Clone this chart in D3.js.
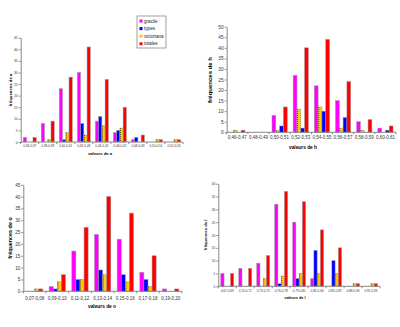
<!DOCTYPE html>
<html>
<head>
<meta charset="utf-8">
<script src="https://cdn.jsdelivr.net/npm/d3@7"></script>
<style>
  body { margin: 0; background: #fff; }
  svg { display: block; font-family: Arial, "Liberation Sans", sans-serif; }
</style>
</head>
<body>
<svg id="chart" width="400" height="327"></svg>
<script>
// --- data: valeurs de a
var catsA = ["0,36-0,37", "0,38-0,39", "0,40-0,41", "0,42-0,43", "0,44-0,45", "0,46-0,47", "0,48-0,49", "0,50-0,51", "0,52-0,53"];
var gracileA = [2, 8, 23, 30, 9, 4, 1, 0, 0];
var typesA = [0, 0, 1, 8, 11, 5, 2, 0, 0];
var victoA = [0, 1, 4, 3, 7, 6, 0, 1, 1];
var totalesA = [2, 9, 28, 41, 27, 15, 3, 1, 1];
var ticksA = [0, 5, 10, 15, 20, 25, 30, 35, 40, 45];

// --- valeurs de h
var catsH = ["0,46-0,47", "0,48-0,49", "0,50-0,51", "0,52-0,53", "0,54-0,55", "0,56-0,57", "0,58-0,59", "0,60-0,61"];
var gracileH = [0, 0, 8, 27, 22, 15, 5, 2];
var victoH = [1, 0, 1, 11, 12, 2, 1, 0];
var typesH = [0, 0, 3, 2, 10, 7, 0, 1];
var totalesH = [1, 0, 12, 40, 44, 24, 6, 3];
var ticksH = [0, 5, 10, 15, 20, 25, 30, 35, 40, 45, 50];

// --- valeurs de o
var catsO = ["0,07-0,08", "0,09-0,10", "0,11-0,12", "0,13-0,14", "0,15-0,16", "0,17-0,18", "0,19-0,20"];
var gracileO = [0, 2, 17, 24, 22, 8, 1];
var typesO = [0, 1, 5, 9, 7, 5, 0];
var victoO = [1, 4, 5, 7, 4, 2, 0];
var totalesO = [1, 7, 27, 40, 33, 15, 1];
var ticksO = [0, 5, 10, 15, 20, 25, 30, 35, 40, 45];

// --- valeurs de l
var catsL = ["0,67-0,69", "0,70-0,72", "0,73-0,75", "0,76-0,78", "0,79-0,81", "0,82-0,84", "0,85-0,87", "0,88-0,90", "0,91-0,93"];
var gracileL = [5, 7, 9, 32, 25, 3, 0, 0, 0];
var typesL = [0, 0, 0, 1, 3, 14, 10, 0, 0];
var victoL = [0, 0, 3, 4, 5, 5, 5, 1, 1];
var totalesL = [5, 7, 12, 37, 33, 22, 15, 1, 1];
var ticksL = [0, 5, 10, 15, 20, 25, 30, 35, 40];

var seriesNames = ["gracile", "types", "victoriana", "totales"];
var colors = { gracile: "#ff00ff", types: "#0000ff", victoriana: "#ffcc00", totales: "#ff0000" };

var svg = d3.select("#chart");

function drawPanel(p) {
    var g = svg.append("g");
    var x = d3.scaleBand().domain(p.cats).range([p.x0, p.x1]).paddingInner(0.28).paddingOuter(0.14);
    var x1 = d3.scaleBand().domain(p.series.map(function(s){ return s.name; })).range([0, x.bandwidth()]);
    var y = d3.scaleLinear().domain([0, p.ticks[p.ticks.length - 1]]).range([p.y1, p.y0]);

    // bars
    p.series.forEach(function(s) {
        var bars = g.selectAll(null)
            .data(s.values.map(function(v, i){ return { c: p.cats[i], v: v }; }).filter(function(d){ return d.v > 0; }))
            .enter();
        bars.append("rect")
            .attr("x", function(d){ return x(d.c) + x1(s.name); })
            .attr("y", function(d){ return y(d.v); })
            .attr("width", x1.bandwidth())
            .attr("height", function(d){ return y(0) - y(d.v); })
            .attr("fill", colors[s.name])
            .attr("stroke", "#999")
            .attr("stroke-width", 0.5);
        if (s.name === "victoriana") {
            bars.append("line")
                .attr("x1", function(d){ return x(d.c) + x1(s.name) + 0.6; })
                .attr("x2", function(d){ return x(d.c) + x1(s.name) + 0.6; })
                .attr("y1", function(d){ return y(d.v); })
                .attr("y2", y(0))
                .attr("stroke", "#222")
                .attr("stroke-width", 0.7)
                .attr("stroke-dasharray", "1,1");
        }
    });

    // y axis
    var yAxis = d3.axisLeft(y).tickValues(p.ticks).tickSize(2).tickSizeOuter(0);
    var ga = g.append("g").attr("transform", "translate(" + p.x0 + ",0)").call(yAxis);
    ga.select(".domain").attr("stroke", "#888");
    ga.selectAll(".tick line").attr("stroke", "#888");
    ga.selectAll("text").attr("font-size", p.fs).attr("fill", "#333").attr("x", -3);

    // x axis line and ticks between categories
    g.append("line").attr("x1", p.x0).attr("x2", p.x1).attr("y1", p.y1).attr("y2", p.y1)
        .attr("stroke", "#888").attr("stroke-width", 1);
    g.selectAll(null).data(d3.range(p.cats.length + 1)).enter().append("line")
        .attr("x1", function(i){ return p.x0 + i * (p.x1 - p.x0) / p.cats.length; })
        .attr("x2", function(i){ return p.x0 + i * (p.x1 - p.x0) / p.cats.length; })
        .attr("y1", p.y1).attr("y2", p.y1 + 2)
        .attr("stroke", "#888");
    g.selectAll(null).data(p.cats).enter().append("text")
        .attr("x", function(d){ return x(d) + x.bandwidth() / 2; })
        .attr("y", p.labelY)
        .attr("text-anchor", "middle")
        .attr("font-size", p.cfs)
        .attr("fill", "#333")
        .text(function(d){ return d; });

    // titles
    g.append("text")
        .attr("x", p.xtX).attr("y", p.xtY)
        .attr("text-anchor", "middle")
        .attr("font-size", p.xfs).attr("font-weight", "bold")
        .text(p.xTitle);
    g.append("text")
        .attr("transform", "translate(" + p.ytX + "," + p.ytY + ") rotate(-90)")
        .attr("text-anchor", "middle")
        .attr("font-size", p.yfs).attr("font-weight", "bold")
        .text(p.yTitle);
}

drawPanel({
    cats: catsA, ticks: ticksA,
    series: [{ name: "gracile", values: gracileA }, { name: "types", values: typesA }, { name: "victoriana", values: victoA }, { name: "totales", values: totalesA }],
    x0: 20.7, x1: 183, y0: 37.7, y1: 142, labelY: 147.3, fs: 3.4, cfs: 3.1, xfs: 4.2, yfs: 4.3,
    xTitle: "valeurs de a", xtX: 100, xtY: 154.5, yTitle: "fréquences de a", ytX: 11.5, ytY: 90
});
drawPanel({
    cats: catsH, ticks: ticksH,
    series: [{ name: "gracile", values: gracileH }, { name: "victoriana", values: victoH }, { name: "types", values: typesH }, { name: "totales", values: totalesH }],
    x0: 226.7, x1: 396, y0: 26.7, y1: 132.3, labelY: 138.8, fs: 4.8, cfs: 4.5, xfs: 4.8, yfs: 6,
    xTitle: "valeurs de h", xtX: 303, xtY: 148.5, yTitle: "fréquences de h", ytX: 212, ytY: 80
});
drawPanel({
    cats: catsO, ticks: ticksO,
    series: [{ name: "gracile", values: gracileO }, { name: "types", values: typesO }, { name: "victoriana", values: victoO }, { name: "totales", values: totalesO }],
    x0: 23.3, x1: 182, y0: 184.7, y1: 291.3, labelY: 299.6, fs: 4.6, cfs: 4.5, xfs: 4.8, yfs: 5.4,
    xTitle: "valeurs de o", xtX: 102, xtY: 307.5, yTitle: "fréquences de o", ytX: 12, ytY: 238
});
drawPanel({
    cats: catsL, ticks: ticksL,
    series: [{ name: "gracile", values: gracileL }, { name: "types", values: typesL }, { name: "victoriana", values: victoL }, { name: "totales", values: totalesL }],
    x0: 218.3, x1: 380, y0: 183.7, y1: 286.3, labelY: 291.8, fs: 3.3, cfs: 3.1, xfs: 3.8, yfs: 4.2,
    xTitle: "valeurs de l", xtX: 295, xtY: 298.5, yTitle: "fréquences de l", ytX: 206.5, ytY: 235
});

// legend (first panel)
var leg = svg.append("g");
leg.append("rect").attr("x", 137).attr("y", 16).attr("width", 29).attr("height", 32)
    .attr("fill", "#fff").attr("stroke", "#888").attr("stroke-width", 0.8);
seriesNames.forEach(function(n, i) {
    leg.append("rect").attr("x", 139.5).attr("y", 19.5 + i * 7.6).attr("width", 3).attr("height", 3)
        .attr("fill", colors[n]);
    leg.append("text").attr("x", 144).attr("y", 22.6 + i * 7.6)
        .attr("font-size", 4.6).attr("fill", "#222").text(n);
});
</script>
</body>
</html>
